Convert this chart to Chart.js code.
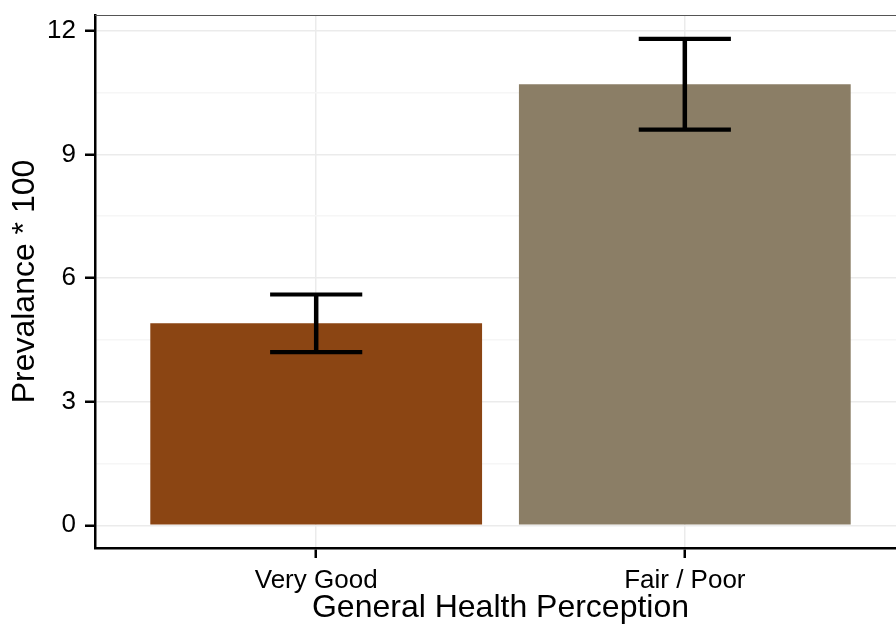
<!DOCTYPE html>
<html><head><meta charset="utf-8">
<script src="https://cdn.jsdelivr.net/npm/chart.js@4"></script>
<style>html,body{margin:0;padding:0;overflow:hidden;background:#fff}#wrap{width:906px;height:624px;position:relative}</style>
</head><body><div id="wrap"><canvas id="c"></canvas></div>
<script>
const categories = ['Very Good', 'Fair / Poor'];
const positions = [1, 2];
const prevalence = [4.9, 10.7];
const lowerCI = [4.2, 9.6];
const upperCI = [5.6, 11.8];
const barColors = ['#8B4513', '#8B7E66'];
const yTicks = [0, 1.5, 3, 4.5, 6, 7.5, 9, 10.5, 12];

const FONT = "'Liberation Sans', Arial, Helvetica, sans-serif";
const isMajor = v => Math.abs(v % 3) < 1e-9;

const errorBars = {
  id: 'errorBars',
  afterDatasetsDraw(chart) {
    const {ctx, scales: {x, y}} = chart;
    const capHalf = 0.125;
    ctx.save();
    ctx.strokeStyle = '#000';
    ctx.lineCap = 'butt';
    positions.forEach((p, i) => {
      const px = x.getPixelForValue(p);
      const hw = x.getPixelForValue(p + capHalf) - px;
      const yl = y.getPixelForValue(lowerCI[i]);
      const yu = y.getPixelForValue(upperCI[i]);
      ctx.lineWidth = 4.5;
      ctx.beginPath();
      ctx.moveTo(px, yl); ctx.lineTo(px, yu);
      ctx.stroke();
      ctx.lineWidth = 4.2;
      ctx.beginPath();
      ctx.moveTo(px - hw, yu); ctx.lineTo(px + hw, yu);
      ctx.moveTo(px - hw, yl); ctx.lineTo(px + hw, yl);
      ctx.stroke();
    });
    ctx.restore();
  }
};

const topBorder = {
  id: 'topBorder',
  afterDraw(chart) {
    const {ctx, chartArea: a} = chart;
    ctx.save();
    ctx.strokeStyle = '#555';
    ctx.lineWidth = 1.2;
    ctx.beginPath();
    ctx.moveTo(a.left, a.top + 0.5);
    ctx.lineTo(a.right, a.top + 0.5);
    ctx.stroke();
    ctx.restore();
  }
};

new Chart(document.getElementById('c'), {
  type: 'bar',
  data: {
    datasets: [{
      data: positions.map((p, i) => ({x: p, y: prevalence[i]})),
      backgroundColor: barColors,
      barPercentage: 0.9,
      categoryPercentage: 1,
      borderWidth: 0
    }]
  },
  options: {
    responsive: true,
    maintainAspectRatio: false,
    animation: false,
    layout: {padding: {top: 15, left: 0, right: 0, bottom: 0}},
    plugins: {legend: {display: false}, tooltip: {enabled: false}},
    scales: {
      x: {
        type: 'linear',
        offset: false,
        min: 0.4, max: 2.6,
        afterBuildTicks: ax => { ax.ticks = positions.map(v => ({value: v})); },
        afterFit: ax => { ax.height = 76; ax.paddingLeft = 0; ax.paddingRight = 0; },
        ticks: {
          callback: v => { const i = positions.indexOf(v); return i >= 0 ? categories[i] : ''; },
          color: '#000',
          font: {family: FONT, size: 26},
          padding: 7,
          maxRotation: 0,
          autoSkip: false
        },
        grid: {offset: false, color: '#EBEBEB', lineWidth: 1.5, tickColor: '#000', tickWidth: 2.5, tickLength: 10},
        border: {display: true, color: '#000', width: 2.5},
        title: {display: true, text: 'General Health Perception', color: '#000',
                font: {family: FONT, size: 32, lineHeight: 1}, padding: {top: 0, bottom: 0}}
      },
      y: {
        type: 'linear',
        min: -0.55, max: 12.38,
        afterBuildTicks: ax => { ax.ticks = yTicks.map(v => ({value: v})); },
        afterFit: ax => { ax.width = 95; ax.paddingTop = 0; ax.paddingBottom = 0; },
        ticks: {
          callback: v => isMajor(v) ? String(v) : '',
          color: '#000',
          font: {family: FONT, size: 26},
          padding: 9,
          autoSkip: false
        },
        grid: {
          color: c => (c.tick && isMajor(c.tick.value)) ? '#EBEBEB' : '#F6F6F6',
          lineWidth: 1.5,
          tickColor: c => (c.tick && isMajor(c.tick.value)) ? '#000' : 'rgba(0,0,0,0)',
          tickWidth: 2.5,
          tickLength: 10
        },
        border: {display: true, color: '#000', width: 2.5},
        title: {display: true, text: 'Prevalance * 100', color: '#000',
                font: {family: FONT, size: 32, lineHeight: 1}, padding: {top: 9, bottom: 0}}
      }
    }
  },
  plugins: [errorBars, topBorder]
});
</script>
</body></html>
